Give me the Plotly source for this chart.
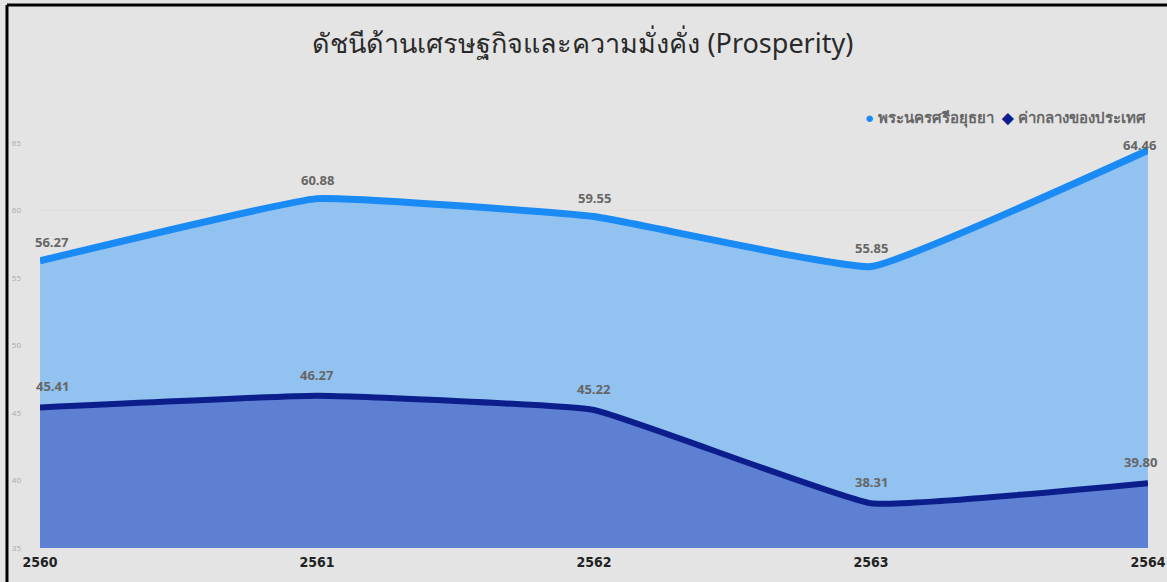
import plotly.graph_objects as go

years = ["2560", "2561", "2562", "2563", "2564"]
ayutthaya = [56.27, 60.88, 59.55, 55.85, 64.46]
national = [45.41, 46.27, 45.22, 38.31, 39.80]
name_a = "พระนครศรีอยุธยา"
name_n = "ค่ากลางของประเทศ"
title = "ดัชนีด้านเศรษฐกิจและความมั่งคั่ง (Prosperity)"
y_ticks = [35, 40, 45, 50, 55, 60, 65]

color_a_line, color_a_fill = "#1a8af5", "#92c2f0"
color_n_line, color_n_fill = "#0c1e8c", "#5d80d3"

x_idx = list(range(len(years)))

fig = go.Figure()
fig.add_trace(go.Scatter(x=x_idx, y=ayutthaya, mode="lines", fill="tozeroy", name=name_a,
                         fillcolor=color_a_fill, line=dict(color=color_a_line, width=7, shape="spline", smoothing=0.3),
                         showlegend=False, hoverinfo="skip"))
fig.add_trace(go.Scatter(x=x_idx, y=national, mode="lines", fill="tozeroy", name=name_n,
                         fillcolor=color_n_fill, line=dict(color=color_n_line, width=6, shape="spline", smoothing=0.3),
                         showlegend=False, hoverinfo="skip"))

n = len(years)
for series, is_top in ((ayutthaya, True), (national, False)):
    for i, v in enumerate(series):
        xs = 12 if i == 0 else (-8 if i == n - 1 else 0)
        if is_top:
            ys = 5 if i == n - 1 else 19
        else:
            ys = 21
        fig.add_annotation(x=x_idx[i], y=v, text=f"{v:.2f}", showarrow=False,
                           xshift=xs, yshift=ys, yanchor="middle",
                           font=dict(size=13, color="#666666", family="Open Sans", weight="bold"))

# legend drawn as text
legend_text = (f"<span style='color:{color_a_line}'>●</span> {name_a}  "
               f"<span style='color:{color_n_line}'>◆</span> {name_n}")
fig.add_annotation(xref="paper", yref="paper", x=1.0, y=1.062, xanchor="right", yanchor="middle",
                   text=legend_text, showarrow=False,
                   font=dict(size=15, color="#666666", family="Noto Sans, sans-serif", weight="bold"))

# frame lines (left and top)
fig.add_shape(type="line", xref="paper", yref="paper", x0=-0.0298, x1=1.05, y0=1.3407, y1=1.3407,
              line=dict(color="black", width=3))
fig.add_shape(type="line", xref="paper", yref="paper", x0=-0.0298, x1=-0.0298, y0=1.3407, y1=-0.2,
              line=dict(color="black", width=3))

fig.update_layout(
    width=1167, height=582,
    paper_bgcolor="#e4e4e4", plot_bgcolor="#e4e4e4",
    margin=dict(l=40, r=19, t=143, b=34),
    showlegend=False,
    title=dict(text=title, x=0.49, xref="paper", xanchor="center", y=0.925, yanchor="middle",
               font=dict(size=27, color="#2a2a2a", family="Noto Sans, sans-serif")),
    xaxis=dict(tickmode="array", tickvals=x_idx, ticktext=years, range=[0, n - 1],
               showgrid=False, zeroline=False, showline=False, automargin=False,
               tickfont=dict(size=14, color="#222222", weight="bold",
                             family="Liberation Sans Narrow, DejaVu Sans Condensed, sans-serif"),
               ticks="", ticklabelstandoff=4),
    yaxis=dict(range=[35, 65], tickvals=y_ticks, showgrid=True, gridcolor="#dedede", gridwidth=1,
               zeroline=False, showline=False, ticks="", automargin=False,
               tickfont=dict(size=8, color="#aaaaaa"), ticklabelstandoff=18),
)

fig.write_html("out.html", config={"displayModeBar": False},
               post_script="document.body.style.margin='0px';")
